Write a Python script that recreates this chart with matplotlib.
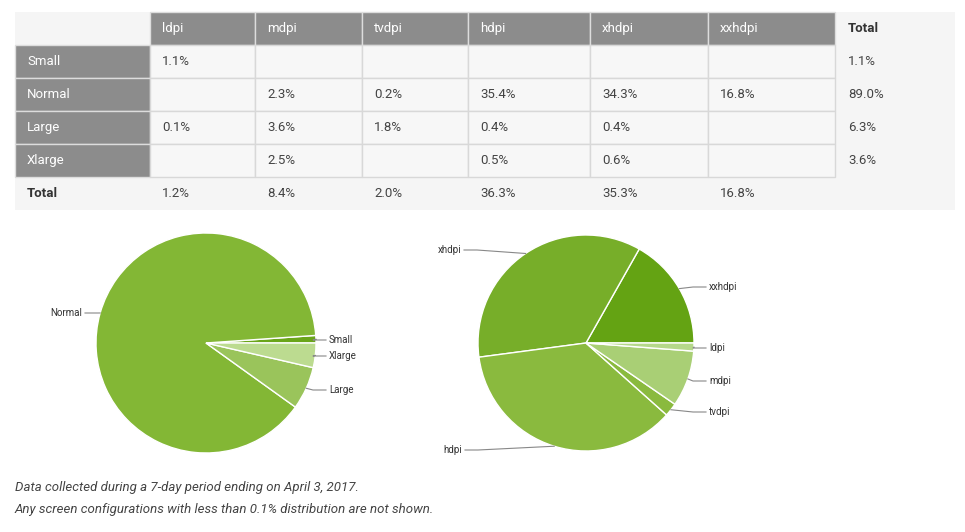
import numpy as np
import matplotlib.pyplot as plt
from matplotlib.patches import Rectangle

plt.rcParams["font.family"] = "Roboto"

# Data
densities = ["ldpi", "mdpi", "tvdpi", "hdpi", "xhdpi", "xxhdpi"]
sizes = ["Small", "Normal", "Large", "Xlarge"]
cells = [
    ["1.1%", "", "", "", "", ""],
    ["", "2.3%", "0.2%", "35.4%", "34.3%", "16.8%"],
    ["0.1%", "3.6%", "1.8%", "0.4%", "0.4%", ""],
    ["", "2.5%", "", "0.5%", "0.6%", ""],
]
size_totals = ["1.1%", "89.0%", "6.3%", "3.6%"]
density_totals = ["1.2%", "8.4%", "2.0%", "36.3%", "35.3%", "16.8%"]

size_pie_labels = ["Small", "Normal", "Large", "Xlarge"]
size_pie_values = [1.1, 89.0, 6.3, 3.6]
density_pie_labels = ["xxhdpi", "xhdpi", "hdpi", "tvdpi", "mdpi", "ldpi"]
density_pie_values = [16.8, 35.3, 36.3, 2.0, 8.4, 1.2]

W, H = 965, 532
fig = plt.figure(figsize=(W / 100, H / 100), dpi=100)
ax = fig.add_axes([0, 0, 1, 1])
ax.set_xlim(0, W)
ax.set_ylim(0, H)
ax.axis("off")


def Y(y):
    return H - y


# Table layout
col_x = [15, 150, 255, 362, 468, 590, 708, 835, 955]
row_y = [12, 45, 78, 111, 144, 177, 210]
gray = "#8c8c8c"
light = "#f5f5f5"
ax.add_patch(Rectangle((15, Y(210)), 940, 198, color=light, lw=0))
for i in range(len(col_x) - 1):
    for j in range(len(row_y) - 1):
        x0, x1 = col_x[i], col_x[i + 1]
        y0, y1 = row_y[j], row_y[j + 1]
        header = (j == 0 and 1 <= i <= 6) or (i == 0 and 1 <= j <= 4)
        if header:
            ax.add_patch(Rectangle((x0, Y(y1)), x1 - x0, y1 - y0, facecolor=gray,
                                   edgecolor="#dddddd", lw=1))
        elif 1 <= i <= 6 and 1 <= j <= 4:
            ax.add_patch(Rectangle((x0, Y(y1)), x1 - x0, y1 - y0, facecolor="#f7f7f7",
                                   edgecolor="#d8d8d8", lw=1))

fs = 9.5
for i, d in enumerate(densities):
    ax.text(col_x[i + 1] + 12, Y(28.5), d, color="white", fontsize=fs, va="center")
ax.text(col_x[7] + 13, Y(28.5), "Total", color="#333333", fontsize=fs, va="center",
        fontweight="bold")
for j, s in enumerate(sizes):
    yc = Y((row_y[j + 1] + row_y[j + 2]) / 2)
    ax.text(27, yc, s, color="white", fontsize=fs, va="center")
    for i in range(6):
        ax.text(col_x[i + 1] + 12, yc, cells[j][i], color="#444444", fontsize=fs, va="center")
    ax.text(col_x[7] + 13, yc, size_totals[j], color="#444444", fontsize=fs, va="center")
yc = Y(193.5)
ax.text(27, yc, "Total", color="#333333", fontsize=fs, va="center", fontweight="bold")
for i in range(6):
    ax.text(col_x[i + 1] + 12, yc, density_totals[i], color="#444444", fontsize=fs, va="center")


def draw_pie(values, labels, colors, center, r, label_pos):
    ax.pie(values, colors=colors, startangle=0, counterclock=True, center=center, radius=r,
           wedgeprops=dict(edgecolor="white", linewidth=1))
    total = sum(values)
    start = 0.0
    for v, lab in zip(values, labels):
        mid = np.deg2rad(start + 360 * v / total / 2)
        start += 360 * v / total
        ex = center[0] + r * np.cos(mid)
        ey = center[1] + r * np.sin(mid)
        tx, ty, side = label_pos[lab]
        ty = Y(ty)
        if side == "right":
            ax.plot([ex, tx - 16, tx - 3], [ey, ty, ty], color="#888888", lw=0.8)
            ax.text(tx, ty, lab, fontsize=7, color="#333333", va="center", ha="left")
        else:
            ax.plot([ex, tx + 16, tx + 3], [ey, ty, ty], color="#888888", lw=0.8)
            ax.text(tx, ty, lab, fontsize=7, color="#333333", va="center", ha="right")


draw_pie(size_pie_values, size_pie_labels,
         ["#6aa51a", "#83b735", "#9ac45b", "#bcdb90"], (206, Y(343)), 110,
         {"Small": (329, 340, "right"), "Normal": (82, 313, "left"),
          "Large": (329, 390, "right"), "Xlarge": (329, 356, "right")})
draw_pie(density_pie_values, density_pie_labels,
         ["#64a313", "#77ae29", "#8aba3e", "#8aba3e", "#a9cf75", "#b5d88a"], (586, Y(343)), 108,
         {"xxhdpi": (709, 287, "right"), "xhdpi": (461, 250, "left"),
          "hdpi": (462, 450, "left"), "tvdpi": (709, 412, "right"),
          "mdpi": (709, 381, "right"), "ldpi": (709, 348, "right")})

ax.set_xlim(0, W)
ax.set_ylim(0, H)
ax.set_aspect("auto")

ax.text(15, Y(487), "Data collected during a 7-day period ending on April 3, 2017.",
        fontsize=9.5, style="italic", color="#444444", va="center")
ax.text(15, Y(510), "Any screen configurations with less than 0.1% distribution are not shown.",
        fontsize=9.5, style="italic", color="#444444", va="center")

fig.savefig("out.png", dpi=100)
